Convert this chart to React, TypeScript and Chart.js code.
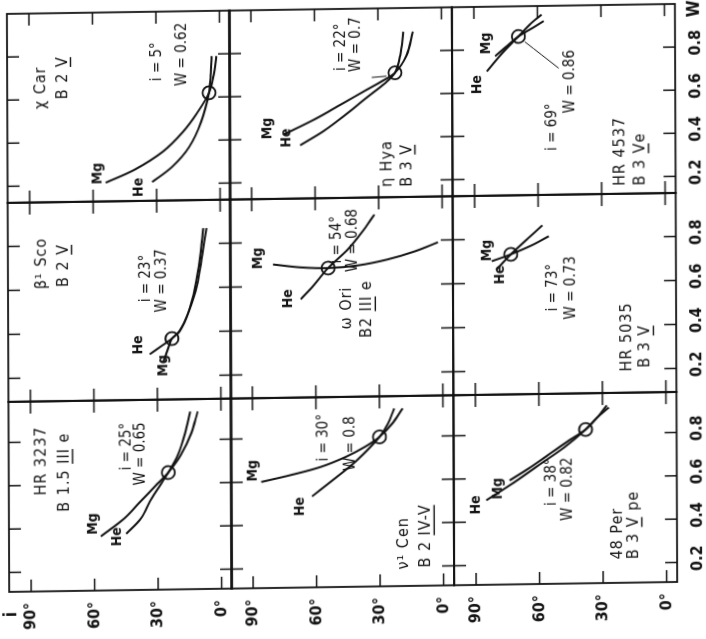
import React, { useEffect, useRef } from 'react';
import { Chart, registerables } from 'chart.js';

Chart.register(...registerables);

// ---------- axis values ----------
const W_TICKS = [0.2, 0.4, 0.6, 0.8];
const I_TICKS = [0, 30, 60, 90];
const I_MIN = -5;
const I_MAX = 100.4;
// W range per column (original orientation, left→right)
const W_MIN = [0.11, 0.093, 0.123];
const W_MAX = [0.987, 0.998, 1.0];

// ---------- panels (original orientation, row-major) ----------
const STARS = ['HR 3237', 'β¹ Sco', 'χ Car', 'ν¹ Cen', 'ω Ori', 'η Hya', '48 Per', 'HR 5035', 'HR 4537'];
const SP_PREFIX = ['B 1.5 ', 'B 2 ', 'B 2 ', 'B 2 ', 'B2 ', 'B 3 ', 'B 3 ', 'B 3 ', 'B 3 '];
const SP_CLASS = ['III', 'V', 'V', 'IV-V', 'III', 'V', 'V', 'V', 'V'];
const SP_SUFFIX = [' e', '', '', '', ' e', '', ' pe', '', 'e'];
const SOL_I = [25, 23, 5, 30, 54, 22, 38, 73, 69];
const SOL_W = [0.65, 0.37, 0.62, 0.8, 0.68, 0.7, 0.82, 0.73, 0.86];

// curves: [W, i], ordered along the curve
const HR3237_MG = [[0.36, 57], [0.44, 46], [0.52, 38], [0.59, 31], [0.65, 25], [0.73, 19], [0.83, 14], [0.93, 11]];
const HR3237_HE = [[0.37, 45], [0.44, 38], [0.53, 33], [0.59, 29], [0.65, 25], [0.73, 20.5], [0.83, 17], [0.93, 14.5]];
const BSCO_MG = [[0.265, 27], [0.32, 25], [0.37, 23], [0.40, 19.5], [0.48, 15.5], [0.60, 12], [0.74, 9.5], [0.87, 8]];
const BSCO_HE = [[0.30, 33.5], [0.34, 27.5], [0.37, 23], [0.41, 19], [0.49, 15], [0.61, 11], [0.75, 8.5], [0.87, 6.5]];
const CHICAR_MG = [[0.21, 54], [0.27, 40], [0.35, 27], [0.44, 17.5], [0.53, 10.5], [0.62, 5], [0.70, 2.8], [0.79, 1.5]];
const CHICAR_HE = [[0.21, 32], [0.28, 22.5], [0.37, 14.5], [0.485, 8.8], [0.62, 5], [0.70, 4.2], [0.79, 3.7]];
const NUCEN_MG = [[0.60, 86], [0.63, 72], [0.665, 58], [0.71, 46], [0.755, 37], [0.80, 30], [0.86, 24], [0.93, 19]];
const NUCEN_HE = [[0.53, 62], [0.62, 50], [0.70, 40], [0.80, 30], [0.86, 26], [0.93, 23]];
const OMORI_MG = [[0.70, 80], [0.685, 67], [0.68, 54], [0.69, 40], [0.715, 26], [0.75, 13], [0.79, 2]];
const OMORI_HE = [[0.54, 67], [0.60, 61], [0.68, 54], [0.76, 45], [0.84, 38], [0.92, 32]];
const ETAHYA_MG = [[0.42, 75], [0.49, 60], [0.56, 47], [0.62, 36], [0.66, 28.5], [0.70, 22], [0.78, 16.5], [0.89, 13.5]];
const ETAHYA_HE = [[0.37, 67], [0.44, 55], [0.52, 44], [0.59, 35], [0.65, 27], [0.70, 22], [0.78, 19.5], [0.89, 18]];
const PER48_MG = [[0.59, 74], [0.65, 64], [0.71, 55], [0.77, 46], [0.82, 38], [0.87, 33], [0.92, 27]];
const PER48_HE = [[0.50, 85], [0.58, 72], [0.66, 60], [0.74, 48], [0.82, 38], [0.88, 32], [0.93, 28]];
const HR5035_MG = [[0.70, 82], [0.73, 73], [0.77, 63], [0.81, 55]];
const HR5035_HE = [[0.66, 80], [0.73, 73], [0.80, 65], [0.86, 58]];
const HR4537_MG = [[0.77, 80], [0.82, 74], [0.86, 69], [0.90, 62], [0.93, 57]];
const HR4537_HE = [[0.70, 84], [0.78, 77], [0.86, 69], [0.92, 63], [0.96, 58]];

const MG = [HR3237_MG, BSCO_MG, CHICAR_MG, NUCEN_MG, OMORI_MG, ETAHYA_MG, PER48_MG, HR5035_MG, HR4537_MG];
const HE = [HR3237_HE, BSCO_HE, CHICAR_HE, NUCEN_HE, OMORI_HE, ETAHYA_HE, PER48_HE, HR5035_HE, HR4537_HE];

// thin leader lines from the labels to the solution circle ([W, i] pairs)
const ETAHYA_LEADER = [[0.68, 33], [0.685, 26]];
const HR4537_LEADER = [[0.71, 50], [0.835, 66]];
const LEADERS = [null, null, null, null, null, ETAHYA_LEADER, null, null, HR4537_LEADER];

// ---------- text anchor positions (data coords [W, i]) ----------
const NAME_AT = [[0.553, 85], [0.603, 84.5], [0.556, 84.2], [0.186, 18.5], [0.40, 45], [0.17, 26], [0.218, 23], [0.19, 18], [0.16, 21]];
const SP_AT = [[0.476, 74], [0.612, 74.1], [0.60, 74.2], [0.194, 8.1], [0.36, 35.5], [0.17, 16.5], [0.218, 15.4], [0.205, 9.5], [0.16, 11.5]];
const ISOL_AT = [[0.663, 44.5], [0.537, 35.3], [0.678, 29.6], [0.69, 56.2], [0.70, 49.6], [0.712, 47.2], [0.47, 54.2], [0.468, 53.3], [0.327, 53.3]];
const WSOL_AT = [[0.592, 37.8], [0.49, 27.7], [0.653, 17.4], [0.645, 43.8], [0.66, 42], [0.707, 40.1], [0.40, 46.6], [0.43, 44.8], [0.50, 44.8]];
const MGLBL_AT = [[0.368, 60.6], [0.199, 27.2], [0.203, 57.8], [0.603, 90], [0.68, 87], [0.40, 82.4], [0.503, 79.3], [0.70, 84], [0.78, 84]];
const HELBL_AT = [[0.313, 49.2], [0.30, 38.6], [0.142, 38.4], [0.44, 67.4], [0.50, 73], [0.361, 73.4], [0.435, 89.8], [0.594, 78], [0.595, 88.3]];

// ---------- layout (original orientation, px) ----------
const COL_U = [51.5, 241.5, 440.5, 629];
const ROW_V = [7.5, 230, 452.5, 675];
const M = 45;
const TICK = 12;
const INK = '#111';
const FONT = '"DejaVu Sans Condensed", "DejaVu Sans", sans-serif';

function drawSp(ctx: CanvasRenderingContext2D, k: number, x: number, y: number) {
  ctx.fillText(SP_PREFIX[k], x, y);
  const w1 = ctx.measureText(SP_PREFIX[k]).width;
  ctx.fillText(SP_CLASS[k], x + w1, y);
  const w2 = ctx.measureText(SP_CLASS[k]).width;
  ctx.fillText(SP_SUFFIX[k], x + w1 + w2, y);
  ctx.beginPath();
  ctx.lineWidth = 1.4;
  ctx.moveTo(x + w1, y + 8);
  ctx.lineTo(x + w1 + w2 - 1, y + 8);
  ctx.stroke();
}

const panelDeco = {
  id: 'panelDeco',
  afterDatasetsDraw(chart: any) {
    const k = chart.options.plugins.panelDeco.k;
    const { ctx, chartArea: a } = chart;
    const x = chart.scales.x;
    const y = chart.scales.y;
    ctx.save();
    ctx.strokeStyle = INK;
    ctx.fillStyle = INK;
    ctx.lineWidth = 1.8;
    ctx.strokeRect(a.left, a.top, a.right - a.left, a.bottom - a.top);
    ctx.lineWidth = 1.5;
    ctx.beginPath();
    for (const w of W_TICKS) {
      const px = x.getPixelForValue(w);
      ctx.moveTo(px, a.top);
      ctx.lineTo(px, a.top + TICK);
      ctx.moveTo(px, a.bottom);
      ctx.lineTo(px, a.bottom - TICK);
    }
    for (const iv of I_TICKS) {
      const py = y.getPixelForValue(iv);
      ctx.moveTo(a.left, py);
      ctx.lineTo(a.left + TICK, py);
      ctx.moveTo(a.right, py);
      ctx.lineTo(a.right - TICK, py);
    }
    ctx.stroke();

    ctx.textAlign = 'left';
    ctx.textBaseline = 'middle';
    const P = (p: number[]) => [x.getPixelForValue(p[0]), y.getPixelForValue(p[1])];
    ctx.font = `16px ${FONT}`;
    try {
      (ctx as any).letterSpacing = '1px';
    } catch (e) {}
    let q = P(NAME_AT[k]);
    ctx.fillText(STARS[k], q[0], q[1]);
    q = P(SP_AT[k]);
    drawSp(ctx, k, q[0], q[1]);
    try {
      (ctx as any).letterSpacing = '0px';
    } catch (e) {}
    ctx.font = `15px ${FONT}`;
    q = P(ISOL_AT[k]);
    ctx.fillText(`i = ${SOL_I[k]}°`, q[0], q[1]);
    q = P(WSOL_AT[k]);
    ctx.fillText(`W = ${SOL_W[k]}`, q[0], q[1]);
    ctx.font = `bold 14px ${FONT}`;
    q = P(MGLBL_AT[k]);
    ctx.fillText('Mg', q[0], q[1]);
    q = P(HELBL_AT[k]);
    ctx.fillText('He', q[0], q[1]);

    // axis titles
    ctx.font = `bold 17px ${FONT}`;
    if (k === 0) {
      ctx.textAlign = 'right';
      ctx.fillText('i', a.left - 20, a.top + 3);
    }
    if (k === 8) {
      ctx.textAlign = 'center';
      ctx.fillText('W', a.right - 5, a.bottom + 20);
    }
    ctx.restore();
  },
};

function toXY(arr: number[][]) {
  return arr.map((p) => ({ x: p[0], y: p[1] }));
}

function makeConfig(k: number): any {
  const r = Math.floor(k / 3);
  const c = k % 3;
  const isLeft = c === 0;
  const isBottom = r === 2;
  const lineDs = (arr: number[][], width: number) => ({
    data: toXY(arr),
    showLine: true,
    borderColor: INK,
    borderWidth: width,
    pointRadius: 0,
    tension: 0.35,
    fill: false,
  });
  const datasets: any[] = [
    lineDs(MG[k], 2),
    lineDs(HE[k], 2),
    {
      data: [{ x: SOL_W[k], y: SOL_I[k] }],
      pointRadius: 6.5,
      pointBorderWidth: 1.8,
      pointBorderColor: INK,
      pointBackgroundColor: 'rgba(0,0,0,0)',
      showLine: false,
    },
  ];
  const lead = LEADERS[k];
  if (lead) datasets.push(lineDs(lead, 1));
  return {
    type: 'scatter',
    data: { datasets },
    options: {
      animation: false,
      responsive: false,
      maintainAspectRatio: false,
      devicePixelRatio: 1,
      layout: {
        padding: { left: isLeft ? 0 : M, right: M, top: M, bottom: isBottom ? 0 : M },
      },
      plugins: {
        legend: { display: false },
        tooltip: { enabled: false },
        panelDeco: { k },
      },
      scales: {
        x: {
          type: 'linear',
          min: W_MIN[c],
          max: W_MAX[c],
          display: isBottom,
          afterFit: (s: any) => {
            s.height = isBottom ? M : 0;
          },
          afterBuildTicks: (s: any) => {
            s.ticks = W_TICKS.map((v) => ({ value: v }));
          },
          grid: { display: false, drawTicks: false },
          border: { display: false },
          ticks: {
            padding: 11,
            labelOffset: 4,
            color: INK,
            font: { size: 16, weight: 'bold', family: FONT },
            maxRotation: 0,
            autoSkip: false,
            callback: (v: any) => Number(v).toFixed(1),
          },
        },
        y: {
          type: 'linear',
          min: I_MIN,
          max: I_MAX,
          display: isLeft,
          afterFit: (s: any) => {
            s.width = isLeft ? M : 0;
          },
          afterBuildTicks: (s: any) => {
            s.ticks = I_TICKS.map((v) => ({ value: v }));
          },
          grid: { display: false, drawTicks: false },
          border: { display: false },
          ticks: {
            padding: 11,
            color: INK,
            font: { size: 16, weight: 'bold', family: FONT },
            autoSkip: false,
            callback: (v: any) => `${v}°`,
          },
        },
      },
    },
    plugins: [panelDeco],
  };
}

const PANEL_KEYS = [0, 1, 2, 3, 4, 5, 6, 7, 8];

export default function App() {
  const refs = useRef<(HTMLCanvasElement | null)[]>([]);
  useEffect(() => {
    document.body.style.margin = '0';
    document.body.style.background = '#fff';
    const charts = PANEL_KEYS.map((k) => new Chart(refs.current[k] as HTMLCanvasElement, makeConfig(k)));
    return () => charts.forEach((ch) => ch.destroy());
  }, []);

  return (
    <div
      style={{
        position: 'fixed',
        left: 0,
        top: 0,
        width: 706,
        height: 639,
        overflow: 'hidden',
        background: '#fff',
      }}
    >
      <div
        style={{
          position: 'absolute',
          left: 0,
          top: 0,
          width: 706,
          height: 639,
          transformOrigin: '341px 298px',
          transform: 'matrix(1, -0.0149, 0.004, 1, 0, 0)',
        }}
      >
        <div
          style={{
            position: 'absolute',
            left: 0,
            top: 0,
            width: 639,
            height: 706,
            transformOrigin: '0 0',
            transform: 'translateY(639px) rotate(-90deg)',
          }}
        >
          {PANEL_KEYS.map((k) => {
            const r = Math.floor(k / 3);
            const c = k % 3;
            const left = COL_U[c] - M;
            const top = ROW_V[r] - M;
            const w = COL_U[c + 1] - COL_U[c] + 2 * M;
            const h = ROW_V[r + 1] - ROW_V[r] + 2 * M;
            return (
              <canvas
                key={k}
                ref={(el) => {
                  refs.current[k] = el;
                }}
                width={Math.round(w)}
                height={Math.round(h)}
                style={{ position: 'absolute', left, top, width: Math.round(w), height: Math.round(h) }}
              />
            );
          })}
        </div>
      </div>
    </div>
  );
}
